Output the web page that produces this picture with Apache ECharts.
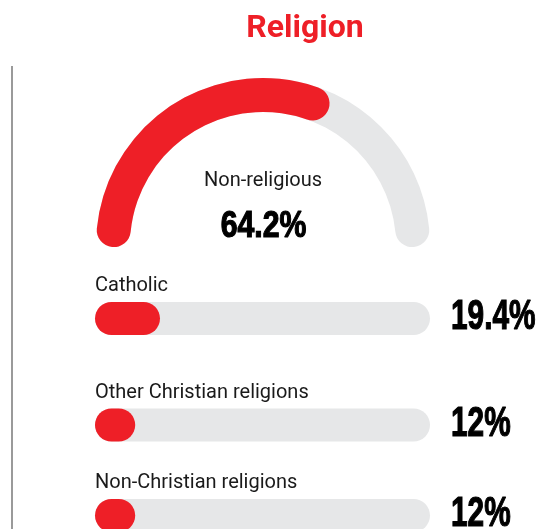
<!DOCTYPE html>
<html>
<head>
<meta charset="utf-8">
<title>Religion</title>
<script src="https://cdn.jsdelivr.net/npm/echarts@6/dist/echarts.min.js"></script>
<style>
  html, body { margin: 0; padding: 0; background: #ffffff; }
  #chart { width: 548px; height: 529px; }
</style>
</head>
<body>
<div id="chart"></div>
<script>
// Headline share shown on the half-ring
const gaugeCategory = 'Non-religious';
const gaugeShare = 64.2;

// Remaining groups shown as progress bars
const categories = ['Catholic', 'Other Christian religions', 'Non-Christian religions'];
const shares = [19.4, 12, 12];

const RED = '#EE1F27';
const TRACK = '#E6E7E8';
const TEXT_FONT = 'Roboto, "Noto Sans", sans-serif';
const NUMBER_FAMILY = '"Liberation Sans", Arial, sans-serif';

const fmtPct = v => String(v) + '%';

// Ring geometry: the coloured arc length includes its rounded caps,
// so the scale minimum absorbs the two cap angles.
const ringCenter = [263, 245];
const ringStart = 174.3, ringEnd = 5.7, ringRadius = 167, ringWidth = 34;
const capDeg = (ringWidth / 2) / (ringRadius - ringWidth / 2) * 180 / Math.PI;
const visualSpan = (ringStart - ringEnd) + 2 * capDeg;
const ringMin = 100 * 2 * capDeg / visualSpan;

// Bar rows: vertical centre of each track (px), track thickness and extent
const rowCentres = [318.5, 425, 515.5];
const barHeight = 33;
const barLeft = 95, barRight = 430;
const bandHeight = 26;

const grids = [], xAxes = [], yAxes = [], series = [];

series.push({
  type: 'gauge',
  center: ringCenter,
  radius: ringRadius,
  startAngle: ringStart,
  endAngle: ringEnd,
  min: ringMin,
  max: 100,
  pointer: { show: false },
  anchor: { show: false },
  axisTick: { show: false },
  splitLine: { show: false },
  axisLabel: { show: false },
  progress: { show: true, roundCap: true, width: ringWidth, itemStyle: { color: RED } },
  axisLine: { roundCap: true, lineStyle: { width: ringWidth, color: [[1, TRACK]] } },
  title: {
    offsetCenter: [0, -64],
    fontFamily: TEXT_FONT,
    fontSize: 20,
    color: '#1a1a1a'
  },
  detail: { show: false },
  data: [{ value: gaugeShare, name: gaugeCategory }]
});

categories.forEach((name, i) => {
  grids.push({
    left: barLeft,
    right: 548 - barRight,
    top: rowCentres[i] - bandHeight / 2,
    height: bandHeight
  });
  xAxes.push({ type: 'value', gridIndex: i, min: 0, max: 100, show: false });
  yAxes.push({ type: 'category', gridIndex: i, data: [name], show: false });
  series.push({
    type: 'bar',
    xAxisIndex: i,
    yAxisIndex: i,
    barWidth: barHeight,
    clip: false,
    data: [shares[i]],
    itemStyle: { color: RED, borderRadius: barHeight / 2 },
    showBackground: true,
    backgroundStyle: { color: TRACK, borderRadius: barHeight / 2 },
    label: {
      show: true,
      position: [0, -6],
      verticalAlign: 'bottom',
      align: 'left',
      formatter: () => name,
      fontFamily: TEXT_FONT,
      fontSize: 20,
      color: '#1a1a1a'
    },
    silent: true
  });
});

// Condensed heavy figures: bold face squeezed horizontally
function figure(text, x, y, size, squeeze, align) {
  return {
    type: 'text',
    x: x, y: y,
    scaleX: squeeze, scaleY: 1,
    silent: true,
    style: {
      text: text,
      fill: '#000',
      stroke: '#000',
      lineWidth: 1.2,
      font: 'bold ' + size + 'px ' + NUMBER_FAMILY,
      align: align, textAlign: align,
      verticalAlign: 'middle', textVerticalAlign: 'middle'
    }
  };
}

const graphics = [{
  type: 'line',
  shape: { x1: 12, y1: 66, x2: 12, y2: 529 },
  style: { stroke: '#9a9a9a', lineWidth: 2 }
}];
graphics.push(figure(fmtPct(gaugeShare), ringCenter[0] + 0.5, ringCenter[1] - 18, 36, 0.84, 'center'));
shares.forEach((v, i) => {
  graphics.push(figure(fmtPct(v), barRight + 21, rowCentres[i] - 1, 42, 0.71, 'left'));
});

const chart = echarts.init(document.getElementById('chart'), null, { renderer: 'canvas' });
chart.setOption({
  animation: false,
  backgroundColor: '#ffffff',
  title: {
    text: 'Religion',
    left: 300,
    top: 8,
    textAlign: 'center',
    textStyle: { fontFamily: TEXT_FONT, fontWeight: 'bold', fontSize: 32, color: RED }
  },
  graphic: graphics,
  grid: grids,
  xAxis: xAxes,
  yAxis: yAxes,
  series: series
});
</script>
</body>
</html>
